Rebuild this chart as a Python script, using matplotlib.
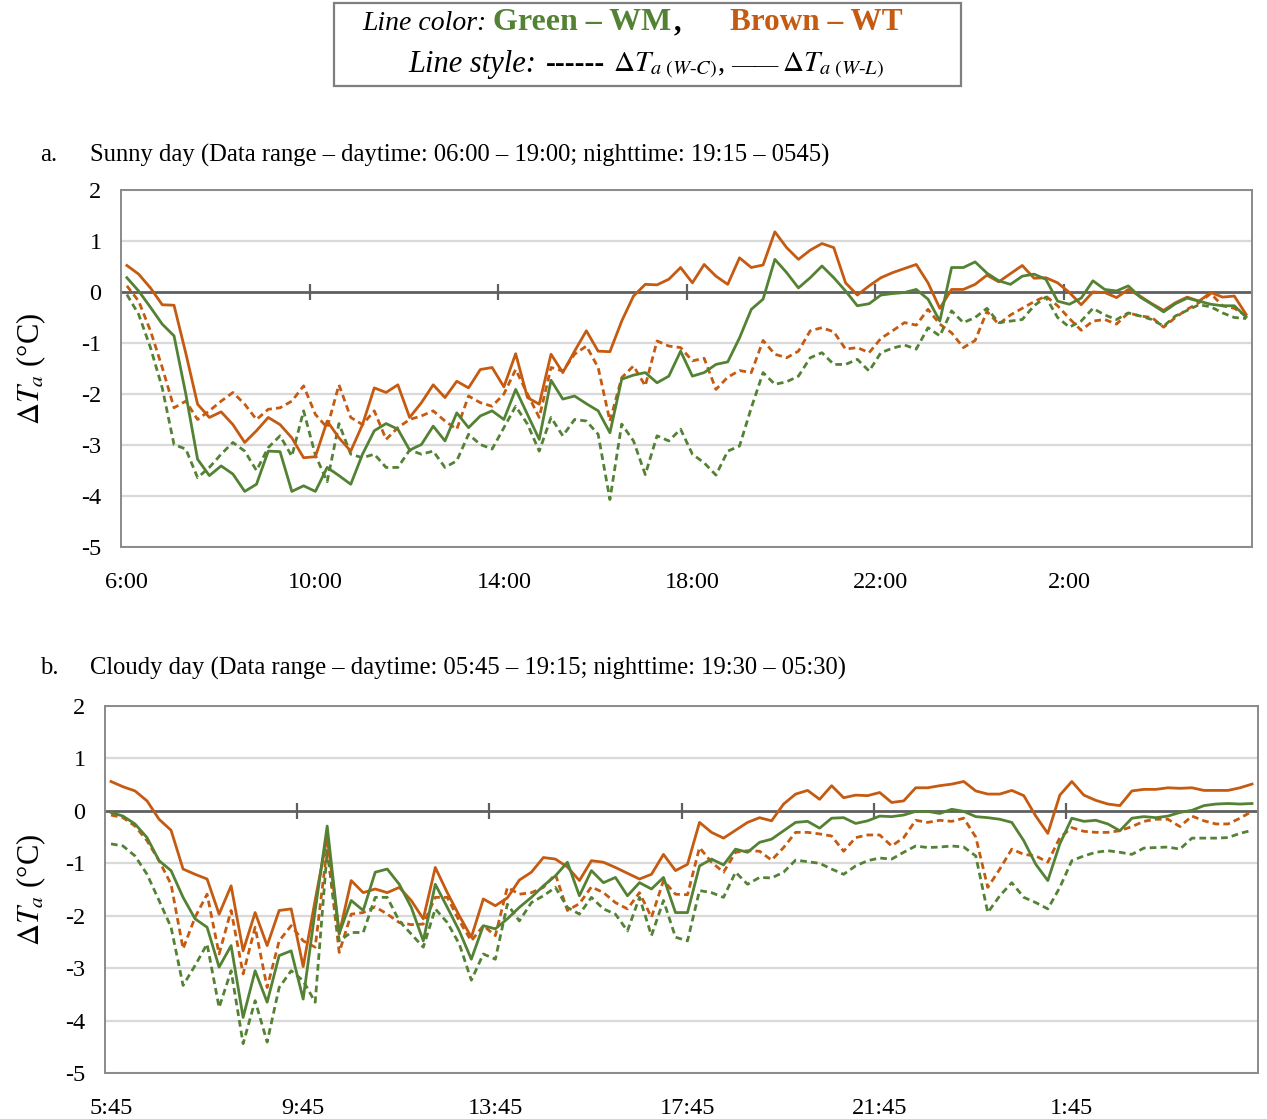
import matplotlib
matplotlib.use("Agg")
import matplotlib.pyplot as plt
from matplotlib.patches import Rectangle
import numpy as np

plt.rcParams['font.family'] = ['Liberation Serif', 'DejaVu Serif']
plt.rcParams['mathtext.fontset'] = 'stix'
plt.rcParams['axes.unicode_minus'] = False

# ---------------- data ----------------
sunny_ticklabels = ["6:00", "10:00", "14:00", "18:00", "22:00", "2:00"]
cloudy_ticklabels = ["5:45", "9:45", "13:45", "17:45", "21:45", "1:45"]
yticks = [2, 1, 0, -1, -2, -3, -4, -5]

# Sunny day, 15-min steps from 06:00 (96 points)
sunny_wt_wl = [0.52, 0.35, 0.08, -0.25, -0.26, -1.2, -2.2, -2.46, -2.35, -2.6, -2.95, -2.72, -2.46, -2.6, -2.86, -3.25, -3.23, -2.53, -2.86, -3.12, -2.6, -1.88, -1.97, -1.82, -2.46,
               -2.17, -1.82, -2.07, -1.75, -1.88, -1.52, -1.48, -1.86, -1.21, -2.07, -2.2, -1.22, -1.58, -1.16, -0.76, -1.16, -1.17, -0.57, -0.08, 0.15, 0.14, 0.25, 0.48, 0.18, 0.54,
               0.31, 0.15, 0.67, 0.48, 0.53, 1.18, 0.87, 0.64, 0.82, 0.95, 0.87, 0.18, -0.06, 0.12, 0.28, 0.38, 0.46, 0.54, 0.18, -0.32, 0.05, 0.05, 0.15, 0.33,
               0.2, 0.36, 0.52, 0.27, 0.28, 0.18, -0.01, -0.25, 0.0, -0.01, -0.11, 0.05, -0.08, -0.23, -0.36, -0.21, -0.1, -0.18, -0.01, -0.1, -0.08, -0.44]
sunny_wt_wc = [0.12, -0.18, -0.76, -1.48, -2.27, -2.14, -2.5, -2.33, -2.14, -1.97, -2.2, -2.5, -2.3, -2.27, -2.14, -1.84, -2.4, -2.66, -1.82, -2.46, -2.6, -2.33, -2.89, -2.66, -2.5,
               -2.43, -2.33, -2.53, -2.69, -2.04, -2.17, -2.24, -2.0, -1.52, -2.0, -2.46, -1.48, -1.55, -1.22, -1.06, -1.48, -2.53, -1.68, -1.45, -1.84, -0.96, -1.06, -1.09, -1.35, -1.3,
               -1.91, -1.67, -1.54, -1.58, -0.95, -1.22, -1.29, -1.16, -0.76, -0.7, -0.78, -1.12, -1.09, -1.19, -0.91, -0.76, -0.6, -0.65, -0.34, -0.63, -0.8, -1.09, -0.95, -0.38,
               -0.63, -0.45, -0.32, -0.19, -0.08, -0.27, -0.52, -0.75, -0.57, -0.54, -0.63, -0.41, -0.47, -0.5, -0.69, -0.5, -0.34, -0.21, -0.03, -0.27, -0.32, -0.47]
sunny_wm_wl = [0.28, 0.02, -0.3, -0.63, -0.86, -2.0, -3.28, -3.6, -3.41, -3.57, -3.91, -3.77, -3.12, -3.13, -3.91, -3.8, -3.91, -3.44, -3.6, -3.77, -3.18, -2.72, -2.58, -2.69, -3.1,
               -2.99, -2.63, -2.92, -2.37, -2.66, -2.43, -2.33, -2.5, -1.91, -2.4, -2.89, -1.73, -2.1, -2.04, -2.19, -2.33, -2.76, -1.71, -1.63, -1.58, -1.78, -1.65, -1.16, -1.65, -1.58,
               -1.42, -1.37, -0.9, -0.34, -0.14, 0.64, 0.38, 0.08, 0.28, 0.51, 0.28, 0.02, -0.27, -0.23, -0.06, -0.03, -0.01, 0.05, -0.14, -0.57, 0.48, 0.48, 0.59, 0.37,
               0.22, 0.15, 0.31, 0.35, 0.25, -0.18, -0.24, -0.12, 0.22, 0.05, 0.02, 0.12, -0.1, -0.24, -0.39, -0.23, -0.12, -0.18, -0.24, -0.27, -0.27, -0.49]
sunny_wm_wc = [-0.05, -0.44, -1.09, -1.88, -2.99, -3.08, -3.64, -3.44, -3.18, -2.95, -3.12, -3.5, -3.05, -2.82, -3.22, -2.33, -3.2, -3.72, -2.58, -3.18, -3.25, -3.18, -3.44, -3.44, -3.1,
               -3.18, -3.12, -3.44, -3.31, -2.79, -2.99, -3.08, -2.66, -2.24, -2.59, -3.12, -2.46, -2.82, -2.5, -2.53, -2.79, -4.07, -2.59, -2.92, -3.58, -2.82, -2.92, -2.69, -3.18, -3.35,
               -3.59, -3.12, -3.02, -2.27, -1.58, -1.81, -1.76, -1.65, -1.29, -1.19, -1.42, -1.42, -1.32, -1.55, -1.19, -1.1, -1.04, -1.12, -0.7, -0.86, -0.37, -0.6, -0.5, -0.32,
               -0.6, -0.57, -0.54, -0.27, -0.1, -0.5, -0.69, -0.57, -0.32, -0.45, -0.54, -0.41, -0.47, -0.54, -0.67, -0.47, -0.36, -0.25, -0.29, -0.41, -0.5, -0.52]

# Cloudy day, 15-min steps from 05:45 (96 points)
cloudy_wt_wl = [0.56, 0.46, 0.38, 0.19, -0.16, -0.37, -1.11, -1.21, -1.3, -1.97, -1.43, -2.67, -1.94, -2.57, -1.9, -1.87, -2.97, -1.7, -0.5, -2.35, -1.33, -1.56, -1.49, -1.56, -1.46,
                -1.71, -2.06, -1.08, -1.56, -2.0, -2.41, -1.68, -1.81, -1.66, -1.32, -1.17, -0.89, -0.92, -1.07, -1.33, -0.95, -0.98, -1.08, -1.19, -1.3, -1.21, -0.83, -1.14, -1.02, -0.22,
                -0.41, -0.52, -0.37, -0.22, -0.13, -0.19, 0.13, 0.32, 0.39, 0.22, 0.48, 0.25, 0.3, 0.29, 0.35, 0.16, 0.19, 0.44, 0.44, 0.48, 0.51, 0.56, 0.38, 0.32,
                0.32, 0.39, 0.29, -0.1, -0.43, 0.3, 0.56, 0.3, 0.2, 0.13, 0.1, 0.38, 0.41, 0.41, 0.44, 0.43, 0.44, 0.39, 0.39, 0.39, 0.44, 0.51]
cloudy_wt_wc = [-0.08, -0.13, -0.29, -0.57, -0.95, -1.4, -2.63, -2.03, -1.59, -2.73, -1.9, -3.11, -2.22, -3.37, -2.48, -2.19, -2.48, -2.6, -0.7, -2.7, -1.97, -1.94, -1.83, -1.97, -2.13,
                -2.17, -2.16, -1.65, -1.65, -2.1, -2.48, -2.19, -2.38, -1.46, -1.59, -1.56, -1.46, -1.21, -1.9, -1.77, -1.45, -1.56, -1.75, -1.87, -1.56, -2.03, -1.33, -1.59, -1.6, -0.7,
                -0.98, -1.17, -0.79, -0.76, -0.77, -0.94, -0.7, -0.41, -0.41, -0.44, -0.48, -0.77, -0.51, -0.46, -0.46, -0.67, -0.51, -0.18, -0.22, -0.18, -0.2, -0.14, -0.5, -1.46,
                -1.11, -0.73, -0.83, -0.86, -0.98, -0.51, -0.32, -0.39, -0.41, -0.41, -0.38, -0.3, -0.2, -0.16, -0.16, -0.3, -0.1, -0.19, -0.25, -0.25, -0.14, -0.01]
cloudy_wm_wl = [-0.03, -0.1, -0.25, -0.51, -0.95, -1.14, -1.65, -2.06, -2.22, -2.98, -2.57, -3.94, -3.05, -3.65, -2.76, -2.67, -3.59, -1.9, -0.29, -2.34, -1.71, -1.9, -1.17, -1.11, -1.4,
                -1.84, -2.48, -1.4, -1.84, -2.29, -2.83, -2.19, -2.25, -2.06, -1.84, -1.65, -1.43, -1.24, -0.98, -1.62, -1.14, -1.37, -1.27, -1.62, -1.37, -1.49, -1.27, -1.94, -1.94, -1.05,
                -0.92, -1.03, -0.73, -0.79, -0.6, -0.54, -0.38, -0.22, -0.2, -0.33, -0.14, -0.13, -0.24, -0.19, -0.1, -0.11, -0.08, -0.01, -0.01, -0.05, 0.03, -0.01, -0.11, -0.13,
                -0.16, -0.22, -0.57, -1.02, -1.33, -0.63, -0.14, -0.2, -0.18, -0.25, -0.38, -0.14, -0.11, -0.13, -0.1, -0.03, 0.01, 0.1, 0.13, 0.14, 0.13, 0.14]
cloudy_wm_wc = [-0.63, -0.67, -0.86, -1.21, -1.71, -2.22, -3.33, -2.95, -2.54, -3.75, -3.05, -4.44, -3.62, -4.41, -3.37, -3.05, -3.24, -3.65, -0.76, -2.48, -2.32, -2.32, -1.65, -1.65, -2.1,
                -2.35, -2.6, -1.87, -2.13, -2.54, -3.23, -2.73, -2.83, -1.78, -2.1, -1.75, -1.62, -1.46, -1.84, -1.97, -1.65, -1.87, -1.97, -2.29, -1.65, -2.38, -1.71, -2.41, -2.48, -1.52,
                -1.56, -1.65, -1.17, -1.4, -1.27, -1.28, -1.17, -0.94, -0.97, -1.0, -1.11, -1.21, -1.05, -0.95, -0.9, -0.92, -0.79, -0.67, -0.7, -0.69, -0.67, -0.69, -0.86, -1.94,
                -1.62, -1.37, -1.65, -1.75, -1.87, -1.46, -0.95, -0.86, -0.79, -0.76, -0.79, -0.83, -0.71, -0.7, -0.69, -0.73, -0.52, -0.52, -0.52, -0.51, -0.43, -0.37]

# ---------------- style ----------------
GREEN = '#548235'
BROWN = '#C55A11'
DASH = (0, (2.4, 1.5))
W, H = 1267, 1119

fig = plt.figure(figsize=(W / 100, H / 100), dpi=100)
fig.patch.set_facecolor('white')


def panel(rect, wl_wm, wc_wm, wl_wt, wc_wt, labels):
    ax = fig.add_axes(rect)
    n = len(wl_wm)
    x = np.arange(n)
    step = n // len(labels)
    ax.set_xlim(-0.5, n - 0.5)
    ax.set_ylim(-5, 2)
    for y in yticks:
        if y != 0:
            ax.axhline(y, color='#d9d9d9', lw=1.6, zorder=1)
    ax.axhline(0, color='#5f5f5f', lw=2.0, zorder=2)
    ax.vlines(np.arange(step, n, step) - 0.5, -0.15, 0.15, color='#5f5f5f', lw=1.6, zorder=2)
    ax.plot(x, wc_wt, color=BROWN, lw=2.0, ls=DASH, zorder=3)
    ax.plot(x, wc_wm, color=GREEN, lw=2.0, ls=DASH, zorder=3)
    ax.plot(x, wl_wt, color=BROWN, lw=2.0, zorder=4)
    ax.plot(x, wl_wm, color=GREEN, lw=2.0, zorder=4)
    ax.set_xticks(np.arange(0, n, step))
    ax.set_xticklabels(labels)
    ax.set_yticks(yticks)
    ax.set_yticklabels([str(v) for v in yticks])
    ax.tick_params(axis='both', length=0, labelsize=17.5, colors='black')
    ax.tick_params(axis='x', pad=18)
    ax.tick_params(axis='y', pad=14)
    for s in ax.spines.values():
        s.set_color('#8a8a8a')
        s.set_linewidth(1.4)
    ax.set_ylabel(r'$\Delta T_a$ (°C)', fontsize=22)
    return ax


ax1 = panel([121 / W, 1 - 547 / H, (1252 - 121) / W, (547 - 190) / H],
            sunny_wm_wl, sunny_wm_wc, sunny_wt_wl, sunny_wt_wc, sunny_ticklabels)
ax1.yaxis.set_label_coords((48 - 121) / (1252 - 121), 0.5)
ax2 = panel([105 / W, 1 - 1073 / H, (1258 - 105) / W, (1073 - 706) / H],
            cloudy_wm_wl, cloudy_wm_wc, cloudy_wt_wl, cloudy_wt_wc, cloudy_ticklabels)
ax2.yaxis.set_label_coords((48 - 105) / (1258 - 105), 0.5)

# panel titles
TS = 17.7
fig.text(40 / W, 1 - 155 / H, 'a.', fontsize=TS, va='center')
fig.text(90 / W, 1 - 155 / H,
         'Sunny day (Data range – daytime: 06:00 – 19:00; nighttime: 19:15 – 0545)',
         fontsize=TS, va='center')
fig.text(40 / W, 1 - 668 / H, 'b.', fontsize=TS, va='center')
fig.text(90 / W, 1 - 668 / H,
         'Cloudy day (Data range – daytime: 05:45 – 19:15; nighttime: 19:30 – 05:30)',
         fontsize=TS, va='center')

# legend box
fig.patches.append(Rectangle((334 / W, 1 - 86 / H), 627 / W, 83 / H, transform=fig.transFigure,
                             facecolor='white', edgecolor='#7f7f7f', lw=1.6))
renderer = fig.canvas.get_renderer()


def seq_text(x_px, y_px, pieces):
    """Place text pieces one after another, starting at x_px (pixels from left)."""
    x = x_px
    for s, gap, kw in pieces:
        t = fig.text(x / W, 1 - y_px / H, s, va='baseline', **kw)
        bb = t.get_window_extent(renderer=renderer)
        x = bb.x1 + gap
    return x


seq_text(362, 30, [
    ('Line color:', 7, dict(fontsize=20, style='italic')),
    ('Green – WM', 2, dict(fontsize=23, weight='bold', color=GREEN)),
    (',', 0, dict(fontsize=22, weight='bold')),
])
fig.text(730 / W, 1 - 30 / H, 'Brown – WT', fontsize=22.5, weight='bold', color=BROWN, va='baseline')

seq_text(408, 72, [
    ('Line style:', 10, dict(fontsize=22, style='italic')),
    ('------', 8, dict(fontsize=21, weight='bold')),
    (r'$\Delta T_{a\ (W\text{-}C)}$,', 6, dict(fontsize=21)),
    ('——', 4, dict(fontsize=17)),
    (r'$\Delta T_{a\ (W\text{-}L)}$', 0, dict(fontsize=21)),
])

fig.savefig('out.png', dpi=100, facecolor='white')
